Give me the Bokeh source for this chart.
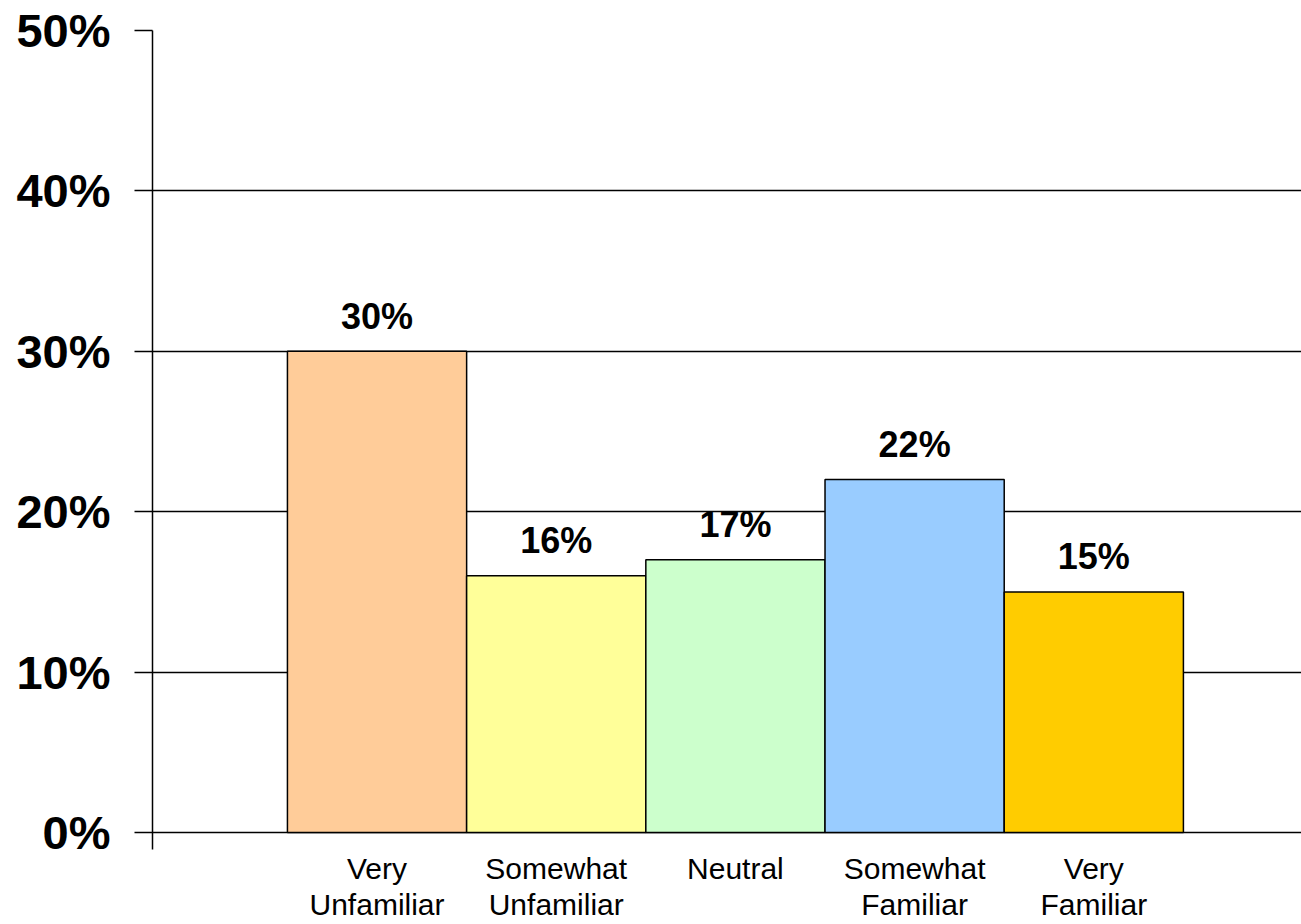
from bokeh.plotting import figure
from bokeh.models import Range1d, FixedTicker, ColumnDataSource
from bokeh.core.properties import value
from bokeh.embed import file_html
from bokeh.resources import INLINE

categories = ["Very\nUnfamiliar", "Somewhat\nUnfamiliar", "Neutral", "Somewhat\nFamiliar", "Very\nFamiliar"]
values = [30, 16, 17, 22, 15]
colors = ["#FFCC99", "#FFFF99", "#CCFFCC", "#99CCFF", "#FFCC00"]
y_ticks = [0, 10, 20, 30, 40, 50]

xs = list(range(len(categories)))
src = ColumnDataSource(dict(x=xs, top=values, color=colors,
                            label=[f"{v}%" for v in values]))

p = figure(width=1301, height=924, output_backend="svg", toolbar_location=None,
           x_range=Range1d(-1.253, 5.159), y_range=Range1d(-1.06, 50),
           min_border_left=152, min_border_right=0, min_border_top=30,
           min_border_bottom=74)
p.outline_line_color = None
p.background_fill_color = "white"

p.vbar(x="x", top="top", bottom=0, width=1.0, fill_color="color",
       line_color="black", line_width=1.5, source=src)
p.text(x="x", y="top", text="label", source=src, text_align="center",
       text_baseline="alphabetic", y_offset=-35,
       text_font=value("Liberation Sans"), text_font_style="bold",
       text_font_size="36px", text_color="black")

# y axis
p.yaxis.ticker = FixedTicker(ticks=y_ticks)
p.yaxis.major_label_overrides = {t: f"{t}%" for t in y_ticks}
p.yaxis.major_label_text_font = "Liberation Sans"
p.yaxis.major_label_text_font_style = "bold"
p.yaxis.major_label_text_font_size = "47px"
p.yaxis.major_label_text_color = "black"
p.yaxis.major_label_standoff = 24
p.yaxis.major_tick_out = 18
p.yaxis.major_tick_in = 0
p.yaxis.minor_tick_line_color = None
p.yaxis.axis_line_width = 1.5
p.yaxis.major_tick_line_width = 1.5
p.yaxis.axis_line_color = "black"
p.yaxis.major_tick_line_color = "black"

# x axis (category labels)
p.xaxis.ticker = FixedTicker(ticks=xs)
p.xaxis.major_label_overrides = {i: c for i, c in enumerate(categories)}
p.xaxis.major_label_text_font = "Liberation Sans"
p.xaxis.major_label_text_font_size = "30px"
p.xaxis.major_label_text_line_height = 1.12
p.xaxis.major_label_text_color = "black"
p.xaxis.major_label_standoff = -4
p.xaxis.axis_line_color = None
p.xaxis.major_tick_line_color = None
p.xaxis.minor_tick_line_color = None

p.xgrid.grid_line_color = None
p.ygrid.ticker = FixedTicker(ticks=y_ticks)
p.ygrid.grid_line_color = "black"
p.ygrid.grid_line_width = 1.5

open("out.html", "w").write(file_html(p, INLINE))
